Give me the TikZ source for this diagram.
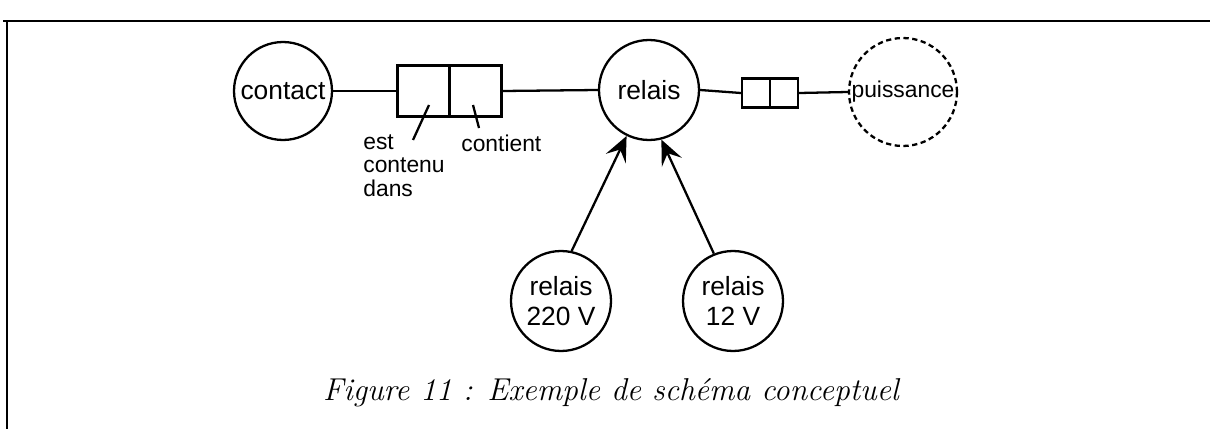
\documentclass[tikz,border=0pt]{standalone}
\usepackage{fontspec}
\setsansfont{Liberation Sans}
\usetikzlibrary{arrows.meta}
\tikzset{
    concept/.style={
        draw,
        circle,
        line width=1.3pt,
        minimum size=2cm,
        inner sep=0mm,
        align=center,
        font=\sffamily\fontsize{15}{17}\selectfont
    },
    half/.style={
        draw,
        rectangle,
        line width=1.3pt,
        inner sep=0mm
    },
    link/.style={line width=1.3pt},
    isa/.style={line width=1.3pt,-{Stealth[length=0.5cm,width=0.44cm,inset=0.2cm]}},
    lbl/.style={font=\sffamily\fontsize{13}{13.5}\selectfont,inner sep=0mm,align=left}
}

\begin{document}
\begin{tikzpicture}[x=0.02cm,y=-0.02cm]
        \useasboundingbox (0,0) rectangle (1210,429);
        % cadre
        \draw[line width=1.5pt] (3,21) -- (1210,21);
        \draw[line width=1.5pt] (7,21) -- (7,429);
        % concepts
        \node[concept,minimum size=1.96cm] (contact) at (283,91) {contact};
        \node[concept] (relais) at (649,90) {relais};
        \node[concept,minimum size=2.16cm,dash pattern=on 3pt off 2pt,
              font=\sffamily\fontsize{13}{15}\selectfont] (puiss) at (903,92) {puissance};
        \node[concept] (r220) at (561,301) {relais\\220 V};
        \node[concept] (r12) at (733,301) {relais\\12 V};
        % relations
        \node[half,minimum width=1.04cm,minimum height=1.02cm] (bl1) at (423.5,91) {};
        \node[half,minimum width=1.04cm,minimum height=1.02cm] (bl2) at (475.5,91) {};
        \node[half,minimum width=0.56cm,minimum height=0.58cm] (br1) at (756,93) {};
        \node[half,minimum width=0.56cm,minimum height=0.58cm] (br2) at (784,93) {};
        \draw[link] (contact.east) -- (bl1.west);
        \draw[link] (bl2.east) -- (relais.west);
        \draw[link] (relais.east) -- (br1.west);
        \draw[link] (br2.east) -- (puiss.west);
        % roles
        \node[lbl,anchor=north west] (estlbl) at (363,134) {est\\contenu\\dans};
        \node[lbl,anchor=base west] (contlbl) at (461,152) {contient};
        \coordinate (p1) at (429,105);
        \coordinate (q1) at (413,140);
        \coordinate (p2) at (473,105);
        \coordinate (q2) at (479,128);
        \draw[link] (p1) -- (q1);
        \draw[link] (p2) -- (q2);
        % sortes
        \draw[isa] (r220.78) -- (relais.-116);
        \draw[isa] (r12.112) -- (relais.-76);
        \node[font=\itshape\fontsize{18}{21}\selectfont] (legende) at (611,393)
            {Figure 11 : Exemple de schéma conceptuel};
\end{tikzpicture}
\end{document}
